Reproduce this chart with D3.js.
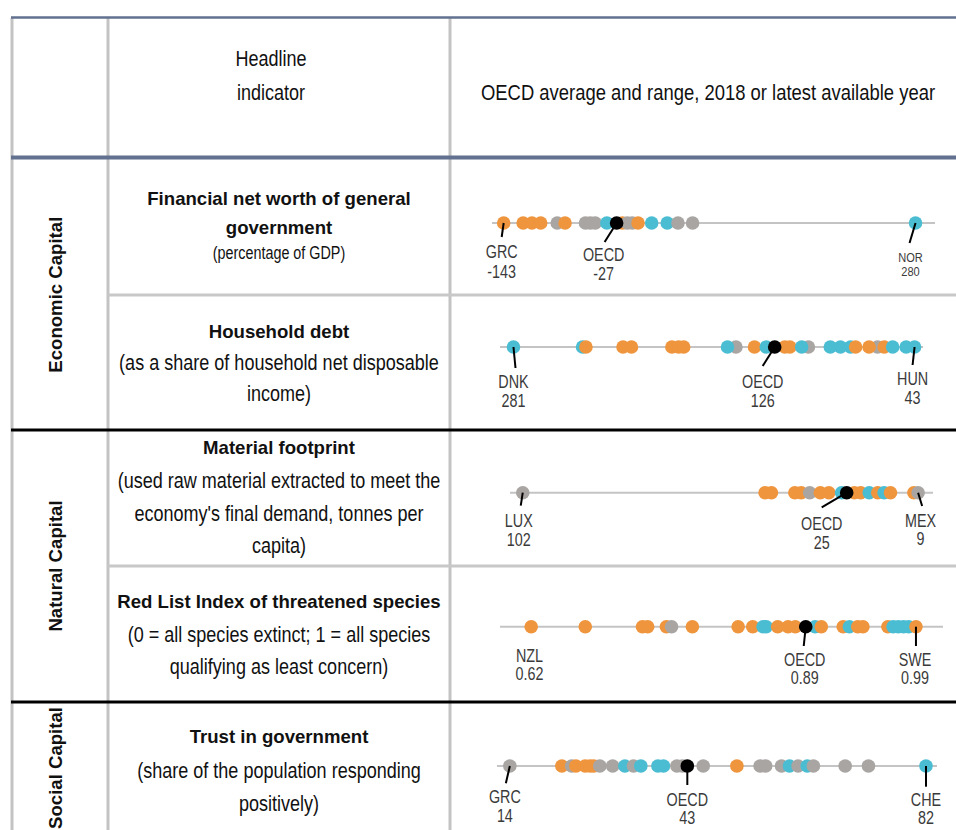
<!DOCTYPE html>
<html><head><meta charset="utf-8">
<script src="https://cdn.jsdelivr.net/npm/d3@7"></script>
<style>body{margin:0;background:#fff}svg{display:block}</style>
</head><body><svg id="c" width="956" height="830"></svg>
<script>
// ---------------- DATA ----------------
const groups = ["Economic Capital", "Natural Capital", "Social Capital"];
const headerIndicator = ["Headline", "indicator"];
const headerRange = "OECD average and range, 2018 or latest available year";

const titleLines = [
  ["Financial net worth of general", "government"],
  ["Household debt"],
  ["Material footprint"],
  ["Red List Index of threatened species"],
  ["Trust in government"]
];
const noteLines = [
  ["(percentage of GDP)"],
  ["(as a share of household net disposable", "income)"],
  ["(used raw material extracted to meet the", "economy's final demand, tonnes per", "capita)"],
  ["(0 = all species extinct; 1 = all species", "qualifying as least concern)"],
  ["(share of the population responding", "positively)"]
];

// trend codes: d = orange, n = grey, i = teal
const fnwValues = [-143,-123,-114,-105,-88,-80,-59,-54,-49,-37,-21,-16,-11,-5,9,25,36,51,280];
const fnwTrend  = ["d","d","d","d","n","d","n","n","n","i","d","n","n","d","i","i","n","n","i"];

const hhdValues = [281,240,238,216,211,187,183,180,149,154,138,131,120,117,106,110,93,87,81,78,65,70,61,56,48,43];
const hhdTrend  = ["i","i","d","d","d","d","d","d","n","i","d","i","d","d","n","i","i","i","i","d","n","d","d","i","i","i"];

const mfpValues = [102,45,43.5,38,36.5,34.5,32,30,27,24,22.5,20.5,18.5,17,15.5,10,9];
const mfpTrend  = ["n","d","d","d","d","n","d","d","i","d","d","i","d","i","d","d","n"];

const rliValues = [0.62,0.672,0.727,0.732,0.750,0.755,0.775,0.819,0.833,0.843,0.846,0.857,0.867,0.874,0.893,0.899,0.920,0.926,0.934,0.939,0.963,0.968,0.973,0.978,0.983,0.99];
const rliTrend  = ["d","d","d","d","d","n","d","d","d","i","i","d","d","d","i","d","d","i","d","d","d","i","i","i","i","d"];

const trustValues = [14,22.5,24.1,24.8,26.3,27.1,27.7,28.7,30.8,32.8,34.2,35.4,38.2,39.1,41.3,42.2,45.6,51.1,54.9,55.8,58.4,59.7,61.1,62.6,63.6,68.8,72.6,82];
const trustTrend  = ["n","d","n","d","d","d","d","n","n","i","n","i","i","i","n","n","n","d","n","n","n","i","n","i","n","n","n","i"];

const rowValues = [fnwValues, hhdValues, mfpValues, rliValues, trustValues];
const rowTrends = [fnwTrend, hhdTrend, mfpTrend, rliTrend, trustTrend];
const axisDomains = [[-155, 300], [289, 38], [105, 5.5], [0.59, 1.016], [11.9, 83.8]];

const oecdValues = [-27, 126, 25.8, 0.884, 43];
const oecdLabels = ["-27", "126", "25", "0.89", "43"];
const minCountries = ["GRC", "DNK", "LUX", "NZL", "GRC"];
const minLabels = ["-143", "281", "102", "0.62", "14"];
const maxCountries = ["NOR", "HUN", "MEX", "SWE", "CHE"];
const maxLabels = ["280", "43", "9", "0.99", "82"];

// ---------------- STYLE / LAYOUT ----------------
const trendColor = { d: "#EF953D", n: "#A9A5A3", i: "#4BBDD2" };
const FONT = "'Liberation Sans',Arial,sans-serif";
const NARROW = 0.82;               // horizontal squeeze giving an Arial-Narrow look
const slate = "#61718F";
const cellGrey = "#C3C3C3";

const colX = { left: 12, split: 108, mid: 450, right: 956 };
const textCenterX = 279;
const rowLineY = [223, 347, 492.7, 626.7, 766];
const rowRange = [[492, 935], [500, 923], [510, 933], [500, 943], [497, 937]];
const titleBase = [[205, 234], [337.5], [454], [607.5], [743]];
const noteBase = [[259], [369.5, 401], [488, 520.5, 553], [641.5, 674], [778, 811]];
const noteSize = [[17.5], [22, 22], [22, 22, 22], [22, 22], [22, 22]];
const groupCenterY = [294.7, 566, 768];
const dotR = 6.8;

const annLayout = [
  [{ldx:-2,ldy:14,tdx:-2,ty:35,gap:20,size:17.5},{ldx:-12,ldy:19,tdx:-13,ty:38,gap:19,size:17.5},{ldx:-6,ldy:20,tdx:-5,ty:38.5,gap:14,size:13.5}],
  [{ldx:2,ldy:21,tdx:0,ty:41,gap:19,size:17.5},{ldx:-12,ldy:19,tdx:-12,ty:41,gap:19,size:17.5},{ldx:-2,ldy:18,tdx:-2,ty:38,gap:19,size:17.5}],
  [{ldx:-2,ldy:13,tdx:-4,ty:34.6,gap:18.7,size:17.5},{ldx:-25,ldy:14.6,tdx:-25,ty:37.3,gap:18.7,size:17.5},{ldx:4,ldy:13.3,tdx:2.4,ty:34,gap:18.7,size:17.5}],
  [{ldx:null,tdx:-1.7,ty:35,gap:18.3,size:17.5},{ldx:-2,ldy:19.3,tdx:-1,ty:39.3,gap:18,size:17.5},{ldx:0,ldy:19.3,tdx:-1,ty:39.3,gap:18,size:17.5}],
  [{ldx:-4,ldy:17.3,tdx:-5,ty:37.3,gap:19,size:17.5},{ldx:0,ldy:19,tdx:0,ty:40,gap:18,size:17.5},{ldx:0,ldy:20.7,tdx:0,ty:40,gap:18,size:17.5}]
];

// ---------------- DRAW ----------------
const svg = d3.select("#c");

function narrowText(parent, x, y, size, str, fill) {
  return parent.append("text")
    .attr("transform", `translate(${x},${y}) scale(${NARROW},1)`)
    .attr("text-anchor", "middle").attr("font-family", FONT)
    .attr("font-size", size).attr("fill", fill).text(str);
}

// vertical cell lines
svg.append("g").selectAll("line").data([colX.left, colX.split, colX.mid]).join("line")
  .attr("x1", d => d).attr("x2", d => d).attr("y1", 18).attr("y2", 830)
  .attr("stroke", cellGrey).attr("stroke-width", 3);

// header text
const gHead = svg.append("g");
headerIndicator.forEach((t, i) => narrowText(gHead, 271, 66 + i * 34, 22, t, "#111"));
narrowText(gHead, 708, 100, 22.5, headerRange, "#111");

// group labels
svg.append("g").selectAll("text").data(groups).join("text")
  .attr("transform", (d, i) => `translate(62,${groupCenterY[i]}) rotate(-90)`)
  .attr("text-anchor", "middle").attr("font-family", FONT).attr("font-weight", "bold")
  .attr("font-size", 18.6).attr("fill", "#111").text(d => d);

// indicator texts
const gInd = svg.append("g").attr("fill", "#111");
titleLines.forEach((lines, r) => {
  lines.forEach((t, k) => {
    gInd.append("text").attr("x", textCenterX).attr("y", titleBase[r][k]).attr("text-anchor", "middle")
      .attr("font-family", FONT).attr("font-weight", "bold").attr("font-size", 18.6).text(t);
  });
  noteLines[r].forEach((t, k) => narrowText(gInd, textCenterX, noteBase[r][k], noteSize[r][k], t, "#111"));
});

// dot strips
rowValues.forEach((vals, r) => {
  const x = d3.scaleLinear().domain(axisDomains[r]).range(rowRange[r]);
  const y = rowLineY[r];
  const g = svg.append("g");
  g.append("line").attr("x1", x.range()[0]).attr("x2", x.range()[1]).attr("y1", y).attr("y2", y)
    .attr("stroke", "#C4C4C4").attr("stroke-width", 2);
  g.selectAll("circle.c").data(vals).join("circle")
    .attr("cx", d => x(d)).attr("cy", y).attr("r", dotR)
    .attr("fill", (d, i) => trendColor[rowTrends[r][i]]);
  g.append("circle").attr("cx", x(oecdValues[r])).attr("cy", y).attr("r", dotR).attr("fill", "#000");

  const anns = [
    { v: vals[0], name: minCountries[r], lab: minLabels[r], L: annLayout[r][0] },
    { v: oecdValues[r], name: "OECD", lab: oecdLabels[r], L: annLayout[r][1] },
    { v: vals[vals.length - 1], name: maxCountries[r], lab: maxLabels[r], L: annLayout[r][2] }
  ];
  anns.forEach(a => {
    const cx = x(a.v);
    if (a.L.ldx !== null) {
      g.append("line").attr("x1", cx).attr("y1", y).attr("x2", cx + a.L.ldx).attr("y2", y + a.L.ldy)
        .attr("stroke", "#000").attr("stroke-width", 2);
    }
    narrowText(g, cx + a.L.tdx, y + a.L.ty, a.L.size, a.name, "#3A3A3A");
    narrowText(g, cx + a.L.tdx, y + a.L.ty + a.L.gap, a.L.size, a.lab, "#3A3A3A");
  });
});

// horizontal table lines (on top)
const hLines = [
  { y: 17.5, x1: 11, w: 2.5, c: slate },
  { y: 157.5, x1: 11, w: 4, c: slate },
  { y: 295, x1: colX.split, w: 3, c: "#C8C8C8" },
  { y: 430, x1: 11, w: 3, c: "#000" },
  { y: 566, x1: colX.split, w: 3, c: "#C8C8C8" },
  { y: 702, x1: 11, w: 3, c: "#000" }
];
svg.append("g").selectAll("line").data(hLines).join("line")
  .attr("x1", d => d.x1).attr("x2", colX.right).attr("y1", d => d.y).attr("y2", d => d.y)
  .attr("stroke", d => d.c).attr("stroke-width", d => d.w);
</script></body></html>
